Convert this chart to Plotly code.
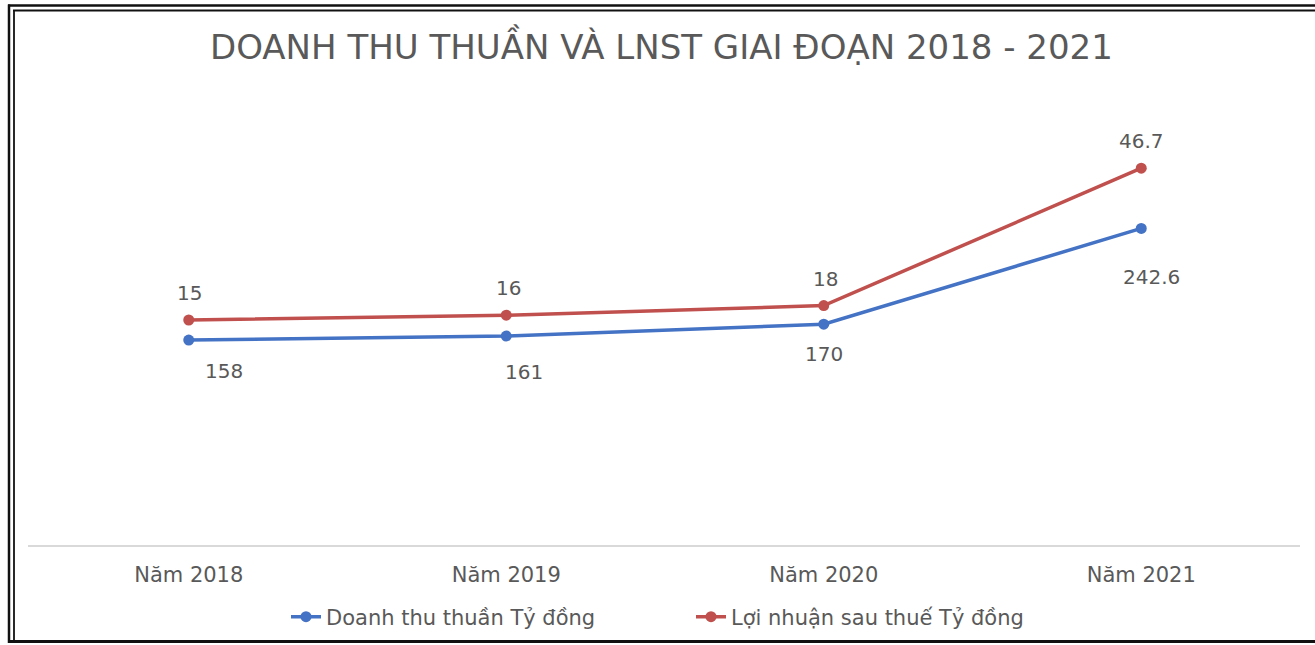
import plotly.graph_objects as go

# Data
years = ["Năm 2018", "Năm 2019", "Năm 2020", "Năm 2021"]
revenue = [158, 161, 170, 242.6]          # Doanh thu thuần (tỷ đồng)
profit = [15, 16, 18, 46.7]               # Lợi nhuận sau thuế (tỷ đồng)

# Label placement offsets (px) for the data labels
rev_label_dx = [35, 18, 0, 10]
rev_label_dy = [-31, -36, -30, -49]
pro_label_dx = [1, 2, 2, 0]
pro_label_dy = [27, 27, 27, 27]

W, H = 1315, 645
L, R, T, B = 30, 1300, 150, 546   # plot area in pixels

BLUE = "#4472C4"
RED = "#C0504D"
GRAY = "#595959"
FONT = "DejaVu Sans"


def px(x):
    return (x - L) / (R - L)


def py(y):
    return (B - y) / (B - T)


fig = go.Figure()
fig.add_trace(go.Scatter(
    x=years, y=revenue, name="Doanh thu thuần Tỷ đồng",
    mode="lines+markers", line=dict(color=BLUE, width=3.5),
    marker=dict(size=11, color=BLUE), yaxis="y",
))
fig.add_trace(go.Scatter(
    x=years, y=profit, name="Lợi nhuận sau thuế Tỷ đồng",
    mode="lines+markers", line=dict(color=RED, width=3.5),
    marker=dict(size=11, color=RED), yaxis="y2",
))

annotations = []
for i, (cat, v) in enumerate(zip(years, revenue)):
    annotations.append(dict(
        x=cat, y=v, xref="x", yref="y", text=f"{v:g}", showarrow=False,
        xshift=rev_label_dx[i], yshift=rev_label_dy[i],
        font=dict(family=FONT, size=20, color=GRAY),
    ))
for i, (cat, v) in enumerate(zip(years, profit)):
    annotations.append(dict(
        x=cat, y=v, xref="x", yref="y2", text=f"{v:g}", showarrow=False,
        xshift=pro_label_dx[i], yshift=pro_label_dy[i],
        font=dict(family=FONT, size=20, color=GRAY),
    ))

# Title
annotations.append(dict(
    x=px(661), y=py(45), xref="paper", yref="paper",
    text="DOANH THU THUẦN VÀ LNST GIAI ĐOẠN 2018 - 2021", showarrow=False,
    font=dict(family=FONT, size=34, color=GRAY),
    xanchor="center", yanchor="middle",
))

# Frame: double line on top and left, heavy line at the bottom
shapes = [
    dict(type="line", xref="paper", yref="paper", x0=px(8), x1=px(1315), y0=py(5.5), y1=py(5.5),
         line=dict(color="#111111", width=2.5)),
    dict(type="line", xref="paper", yref="paper", x0=px(13), x1=px(1315), y0=py(10.5), y1=py(10.5),
         line=dict(color="#111111", width=1.8)),
    dict(type="line", xref="paper", yref="paper", x0=px(9), x1=px(9), y0=py(4.5), y1=py(643),
         line=dict(color="#111111", width=2.5)),
    dict(type="line", xref="paper", yref="paper", x0=px(14), x1=px(14), y0=py(10), y1=py(641),
         line=dict(color="#111111", width=1.8)),
    dict(type="line", xref="paper", yref="paper", x0=px(8), x1=px(1315), y0=py(641.5), y1=py(641.5),
         line=dict(color="#111111", width=3)),
    # category axis baseline
    dict(type="line", xref="paper", yref="paper", x0=px(28), x1=px(1300), y0=py(546), y1=py(546),
         line=dict(color="#D9D9D9", width=2), layer="below"),
]

fig.update_layout(
    width=W, height=H,
    margin=dict(l=L, r=W - R, t=T, b=H - B, autoexpand=False),
    paper_bgcolor="white", plot_bgcolor="white",
    font=dict(family=FONT, color=GRAY),
    showlegend=True,
    legend=dict(
        orientation="h", x=px(691), y=py(617), xanchor="center", yanchor="middle",
        font=dict(family=FONT, size=21, color=GRAY), traceorder="normal",
        entrywidth=360, bgcolor="rgba(0,0,0,0)",
    ),
    xaxis=dict(
        showgrid=False, zeroline=False, showline=False,
        ticks="outside", ticklen=10, tickcolor="rgba(0,0,0,0)",
        tickfont=dict(family=FONT, size=21, color=GRAY),
        range=[-0.5, 3.5],
    ),
    yaxis=dict(range=[1.9, 302], visible=False, showgrid=False, zeroline=False),
    yaxis2=dict(range=[-32.2, 50.5], visible=False, showgrid=False, zeroline=False,
                overlaying="y", side="right"),
    annotations=annotations,
    shapes=shapes,
)

fig.write_html("out.html")
